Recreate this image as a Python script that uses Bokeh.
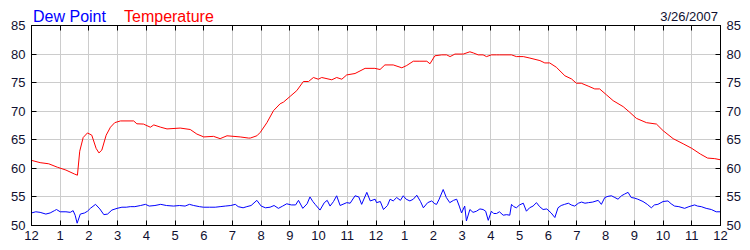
from bokeh.plotting import figure
from bokeh.models import LinearAxis, FixedTicker, Range1d, Div
from bokeh.layouts import column
from bokeh.embed import file_html
from bokeh.resources import INLINE

# ---- data (hours after midnight, degrees F) ----
temp_hours = [0.0, 0.3, 0.6, 0.9, 1.2, 1.5, 1.6, 1.68, 1.8, 1.95, 2.1, 2.25, 2.35, 2.45, 2.6, 2.75,
              2.9, 3.1, 3.56, 3.67, 3.9, 4.14, 4.26, 4.5, 4.72, 5.18, 5.53, 5.76, 6.0, 6.34, 6.57,
              6.81, 7.27, 7.56, 7.62, 7.85, 7.97, 8.2, 8.43, 8.66, 8.78, 9.01, 9.24, 9.47, 9.65,
              9.82, 9.99, 10.11, 10.46, 10.63, 10.81, 10.98, 11.27, 11.62, 11.96, 12.14, 12.31,
              12.6, 12.9, 13.07, 13.3, 13.53, 13.77, 13.88, 14.05, 14.29, 14.46, 14.58, 14.75,
              15.04, 15.27, 15.39, 15.56, 15.73, 15.85, 16.02, 16.2, 16.31, 16.72, 16.89, 17.13,
              17.36, 17.71, 17.88, 18.05, 18.28, 18.58, 18.81, 18.98, 19.15, 19.39, 19.62, 19.79,
              20.02, 20.26, 20.61, 20.84, 21.07, 21.42, 21.77, 22.0, 22.35, 22.7, 23.0, 23.3,
              23.55, 23.8, 24.0]
temp_values = [61.4, 61.0, 60.8, 60.2, 59.7, 59.0, 58.8, 63.0, 65.4, 66.2, 65.8, 63.5, 62.7, 63.2,
               65.8, 67.2, 68.0, 68.3, 68.3, 67.8, 67.75, 67.2, 67.6, 67.2, 66.9, 67.05, 66.8,
               66.0, 65.5, 65.6, 65.2, 65.7, 65.5, 65.3, 65.3, 65.7, 66.3, 68.0, 70.1, 71.3, 71.6,
               72.6, 73.6, 75.2, 75.2, 75.9, 75.6, 75.9, 75.5, 75.9, 75.6, 76.35, 76.6, 77.5, 77.5,
               77.3, 78.1, 78.1, 77.6, 78.0, 78.75, 78.75, 78.75, 78.3, 79.7, 79.86, 79.86, 79.56,
               80.0, 80.0, 80.4, 80.2, 79.86, 79.86, 79.56, 79.86, 79.86, 79.86, 79.86, 79.56,
               79.56, 79.3, 78.86, 78.45, 78.45, 77.7, 76.2, 75.65, 74.9, 74.9, 74.4, 73.9, 73.9,
               72.9, 71.85, 70.8, 69.8, 68.75, 68.0, 67.75, 66.6, 65.2, 64.3, 63.5, 62.5, 61.8,
               61.7, 61.5]

dew_hours = [0.0, 0.15, 0.3, 0.5, 0.65, 0.8, 0.87, 1.0, 1.2, 1.35, 1.45, 1.52, 1.59, 1.7, 1.85,
             1.95, 2.05, 2.23, 2.38, 2.52, 2.65, 2.8, 2.98, 3.15, 3.3, 3.44, 3.6, 3.8, 3.97, 4.1,
             4.3, 4.5, 4.7, 4.95, 5.15, 5.35, 5.5, 5.65, 5.85, 5.99, 6.2, 6.4, 6.57, 6.75, 6.94,
             7.1, 7.2, 7.37, 7.5, 7.65, 7.85, 8.0, 8.15, 8.31, 8.45, 8.6, 8.75, 8.89, 9.05, 9.2,
             9.3, 9.45, 9.6, 9.7, 9.8, 9.88, 10.05, 10.2, 10.3, 10.4, 10.52, 10.63, 10.75, 10.98,
             11.1, 11.27, 11.4, 11.5, 11.68, 11.8, 11.97, 12.02, 12.15, 12.26, 12.4, 12.49, 12.6,
             12.72, 12.85, 12.95, 13.05, 13.18, 13.3, 13.42, 13.55, 13.65, 13.8, 13.94, 14.05,
             14.11, 14.2, 14.34, 14.45, 14.57, 14.7, 14.81, 14.9, 14.98, 15.09, 15.15, 15.27,
             15.38, 15.5, 15.62, 15.73, 15.82, 15.91, 16.02, 16.1, 16.2, 16.3, 16.43, 16.55,
             16.66, 16.72, 16.8, 16.89, 17.0, 17.13, 17.24, 17.35, 17.47, 17.59, 17.7, 17.82,
             17.95, 18.1, 18.23, 18.34, 18.45, 18.57, 18.7, 18.8, 18.92, 19.05, 19.16, 19.28,
             19.4, 19.55, 19.74, 19.85, 19.97, 20.08, 20.2, 20.32, 20.43, 20.55, 20.66, 20.78,
             20.89, 21.0, 21.12, 21.3, 21.45, 21.59, 21.7, 21.82, 22.0, 22.17, 22.28, 22.4,
             22.55, 22.75, 22.9, 23.1, 23.2, 23.33, 23.5, 23.68, 23.85, 24.0]
dew_values = [52.2, 52.4, 52.3, 52.0, 52.2, 52.6, 52.8, 52.4, 52.4, 52.3, 52.6, 51.8, 50.4, 52.0,
              52.2, 52.5, 53.0, 53.7, 52.9, 51.9, 52.0, 52.7, 53.0, 53.2, 53.2, 53.3, 53.3, 53.5,
              53.7, 53.4, 53.5, 53.7, 53.5, 53.4, 53.5, 53.4, 53.7, 53.5, 53.3, 53.2, 53.2, 53.2,
              53.3, 53.4, 53.5, 53.7, 53.3, 53.1, 53.3, 53.5, 54.4, 53.4, 53.1, 53.2, 53.5, 53.0,
              53.4, 53.8, 53.6, 53.6, 54.4, 53.0, 53.8, 55.0, 54.2, 53.7, 52.7, 54.0, 54.4, 53.4,
              54.2, 55.2, 53.5, 54.0, 53.9, 55.2, 55.0, 53.7, 55.8, 54.3, 54.6, 54.0, 54.2, 52.8,
              53.5, 54.6, 54.3, 54.9, 54.4, 55.2, 54.6, 54.3, 54.6, 55.3, 54.2, 53.1, 54.0, 54.3,
              53.8, 53.7, 54.6, 56.3, 54.9, 54.0, 54.4, 54.6, 53.4, 52.2, 53.4, 50.8, 52.8, 52.3,
              52.5, 52.9, 52.8, 52.5, 50.9, 52.5, 52.1, 52.1, 52.4, 51.8, 51.9, 51.8, 53.7, 53.3,
              53.1, 53.6, 53.9, 52.5, 53.1, 53.4, 54.0, 53.3, 52.8, 52.9, 52.2, 51.4, 53.1, 53.5,
              53.7, 53.9, 53.6, 53.4, 53.9, 54.1, 53.9, 54.0, 54.1, 54.4, 53.7, 54.9, 55.1, 55.2,
              54.9, 54.6, 55.2, 55.5, 55.8, 54.9, 54.8, 54.6, 54.2, 53.7, 53.1, 53.6, 53.7, 54.2,
              54.3, 53.8, 53.4, 53.3, 53.0, 53.3, 53.6, 53.4, 53.3, 53.0, 52.8, 52.4, 52.4]

hour_ticks = list(range(0, 25))
hour_labels = ["12", "1", "2", "3", "4", "5", "6", "7", "8", "9", "10", "11",
               "12", "1", "2", "3", "4", "5", "6", "7", "8", "9", "10", "11", "12"]
temp_ticks = [50, 55, 60, 65, 70, 75, 80, 85]

title_left = "Dew Point"
title_right = "Temperature"
date_text = "3/26/2007"

FONT = "Liberation Sans"

# ---- header line with the coloured series names and the date ----
header_html = (
    '<div style="position:relative;width:750px;height:5px;overflow:visible;'
    'font-family:\'Liberation Sans\',Arial,sans-serif;">'
    '<span style="position:absolute;left:33px;top:2px;font-size:16px;line-height:16px;'
    'color:#0000ff;white-space:nowrap;">' + title_left + '</span>'
    '<span style="position:absolute;left:124px;top:2px;font-size:16px;line-height:16px;'
    'color:#ff0000;white-space:nowrap;">' + title_right + '</span>'
    '<span style="position:absolute;right:32px;top:3px;font-size:13px;line-height:13px;'
    'color:#101030;white-space:nowrap;">' + date_text + '</span>'
    '</div>'
)
header = Div(text=header_html, width=750, height=5, margin=(0, 0, 0, 0))

p = figure(width=750, height=245, x_range=Range1d(0, 24), y_range=Range1d(50, 85),
           output_backend="svg", toolbar_location=None,
           min_border_left=31, min_border_right=30, min_border_top=20, min_border_bottom=25,
           x_axis_location=None, y_axis_location=None, margin=(0, 0, 0, 0))
p.background_fill_color = "white"
p.border_fill_color = None
p.outline_line_color = "black"
p.outline_line_width = 1

xt = FixedTicker(ticks=hour_ticks)
yt = FixedTicker(ticks=temp_ticks)
overrides = {i: lab for i, lab in zip(hour_ticks, hour_labels)}


def style(ax):
    ax.axis_line_color = "black"
    ax.major_tick_line_color = "black"
    ax.major_tick_in = 5
    ax.major_tick_out = 0
    ax.minor_tick_line_color = None
    ax.major_label_text_font = FONT
    ax.major_label_text_font_size = "13px"
    ax.major_label_text_color = "#101030"
    ax.major_label_standoff = 6


bx = LinearAxis(ticker=xt, major_label_overrides=overrides)
style(bx)
bx.major_label_standoff = 5
p.add_layout(bx, "below")
tx = LinearAxis(ticker=xt)
style(tx)
tx.major_label_text_color = None
tx.major_label_text_font_size = "0px"
tx.major_label_standoff = 0
p.add_layout(tx, "above")
ly = LinearAxis(ticker=yt)
style(ly)
p.add_layout(ly, "left")
ry = LinearAxis(ticker=yt)
style(ry)
p.add_layout(ry, "right")

p.xgrid.ticker = xt
p.ygrid.ticker = yt
p.xgrid.grid_line_color = "#cccccc"
p.ygrid.grid_line_color = "#cccccc"

p.line(dew_hours, dew_values, line_color="#0000ff", line_width=1)
p.line(temp_hours, temp_values, line_color="#ff0000", line_width=1)

layout = column(header, p, spacing=0, margin=(0, 0, 0, 0))
open("out.html", "w").write(file_html(layout, INLINE))
